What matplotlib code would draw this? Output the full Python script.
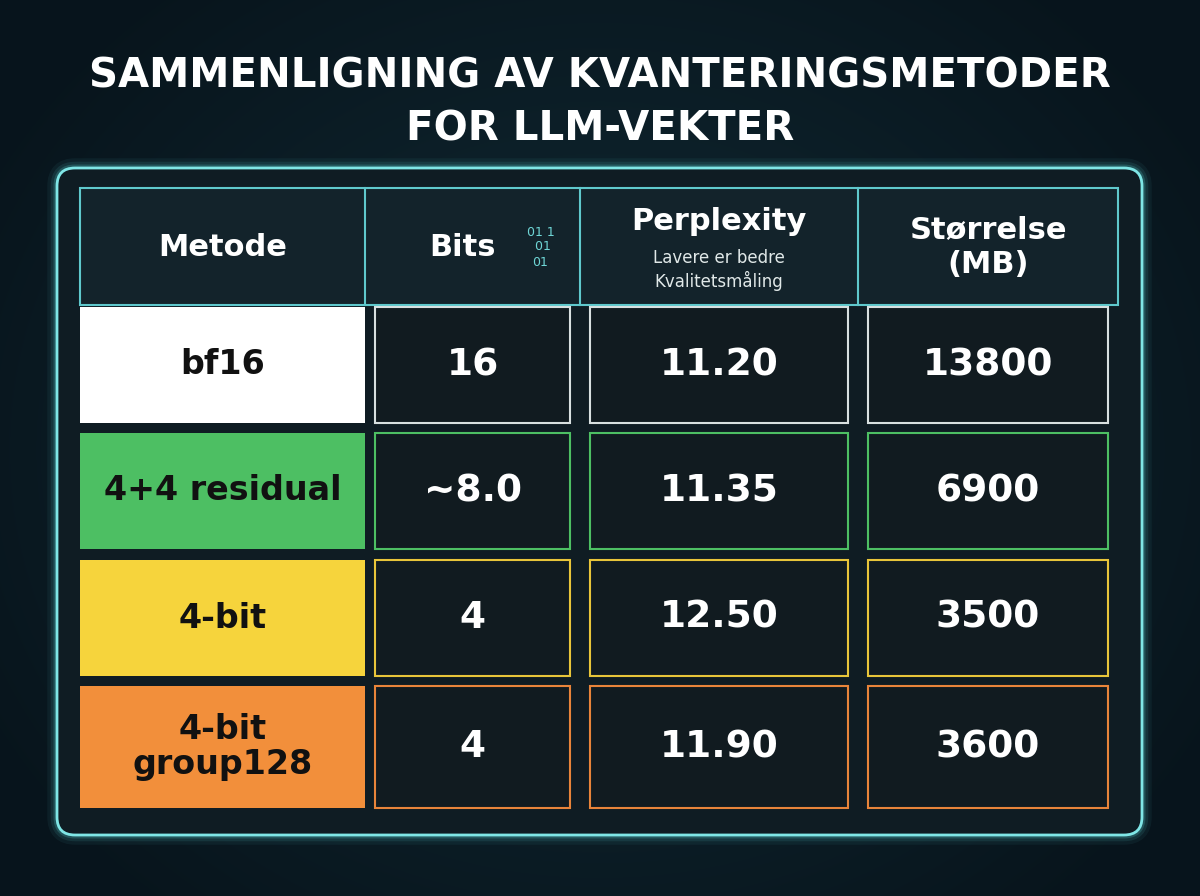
import matplotlib
matplotlib.use("Agg")
import matplotlib.pyplot as plt
from matplotlib.patches import FancyBboxPatch, Rectangle
import numpy as np

title = "SAMMENLIGNING AV KVANTERINGSMETODER\nFOR LLM-VEKTER"
headers = ["Metode", "Bits", "Perplexity", "Størrelse\n(MB)"]
methods = ["bf16", "4+4 residual", "4-bit", "4-bit\ngroup128"]
bits = ["16", "~8.0", "4", "4"]
perplexity = ["11.20", "11.35", "12.50", "11.90"]
size_mb = ["13800", "6900", "3500", "3600"]
row_colors = ["#ffffff", "#4dbf63", "#f6d43c", "#f28f3b"]
edge_colors = ["#d8e0e0", "#4dbf63", "#e8c53a", "#e8843a"]

W, H = 1200, 896
fig = plt.figure(figsize=(12, 8.96), dpi=100)
ax = fig.add_axes([0, 0, 1, 1])
ax.set_xlim(0, W); ax.set_ylim(H, 0); ax.axis("off")

yy, xx = np.mgrid[0:H, 0:W]
r = np.sqrt(((xx - 600) / 700) ** 2 + ((yy - 450) / 600) ** 2)
bg = np.clip(1 - r, 0, 1)
c0 = np.array([0.03, 0.08, 0.11]); c1 = np.array([0.07, 0.17, 0.21])
img = c0 + (c1 - c0) * bg[..., None]
ax.imshow(img, extent=[0, W, H, 0], zorder=0)

ax.text(600, 103, title, color="white", fontsize=29, fontweight="bold",
        ha="center", va="center", linespacing=1.45, family="DejaVu Sans")

for lw, a in [(14, 0.06), (9, 0.1), (5, 0.2)]:
    ax.add_patch(FancyBboxPatch((57, 168), 1085, 667, boxstyle="round,pad=0,rounding_size=18",
                                fc="none", ec="#5fe0e0", lw=lw, alpha=a, zorder=1))
ax.add_patch(FancyBboxPatch((57, 168), 1085, 667, boxstyle="round,pad=0,rounding_size=18",
                            fc="#0f1c23", ec="#7fe6e6", lw=2, zorder=2))

col_x = [80, 365, 580, 858, 1118]
ax.add_patch(Rectangle((80, 188), 1038, 117, fc="#13232b", ec="#5fc8cc", lw=1.5, zorder=3))
for i, h in enumerate(headers):
    x0, x1 = col_x[i], col_x[i + 1]
    if i > 0:
        ax.plot([x0, x0], [188, 305], color="#5fc8cc", lw=1.5, zorder=4)
    cx = (x0 + x1) / 2
    if i == 2:
        ax.text(cx, 222, h, color="white", fontsize=22, fontweight="bold", ha="center", va="center", zorder=5)
        ax.text(cx, 270, "Lavere er bedre\nKvalitetsmåling", color="#e0e8e8", fontsize=12,
                ha="center", va="center", zorder=5, linespacing=1.2)
    elif i == 1:
        ax.text(cx - 10, 247, h, color="white", fontsize=22, fontweight="bold", ha="center", va="center", zorder=5)
        ax.text(cx + 68, 247, "01 1\n 01\n01", color="#6fd6d6", fontsize=9, ha="center", va="center", zorder=5)
    else:
        ax.text(cx, 247, h, color="white", fontsize=22, fontweight="bold", ha="center", va="center",
                zorder=5, linespacing=1.3)

row_y = [(307, 423), (433, 549), (560, 676), (686, 808)]
for r_i in range(len(methods)):
    y0, y1 = row_y[r_i]
    vals = [methods[r_i], bits[r_i], perplexity[r_i], size_mb[r_i]]
    for c in range(4):
        x0, x1 = col_x[c], col_x[c + 1]
        if c == 0:
            ax.add_patch(Rectangle((x0, y0), x1 - x0, y1 - y0, fc=row_colors[r_i], ec="none", zorder=3))
            ax.text((x0 + x1) / 2, (y0 + y1) / 2, vals[c], color="#111111", fontsize=24,
                    fontweight="bold", ha="center", va="center", zorder=5, linespacing=1.1)
        else:
            ax.add_patch(Rectangle((x0 + 10, y0), x1 - x0 - 20, y1 - y0, fc="#111b20",
                                   ec=edge_colors[r_i], lw=1.5, zorder=3))
            ax.text((x0 + x1) / 2, (y0 + y1) / 2, vals[c], color="white", fontsize=27,
                    fontweight="bold", ha="center", va="center", zorder=5)

fig.savefig("out.png", dpi=100)
